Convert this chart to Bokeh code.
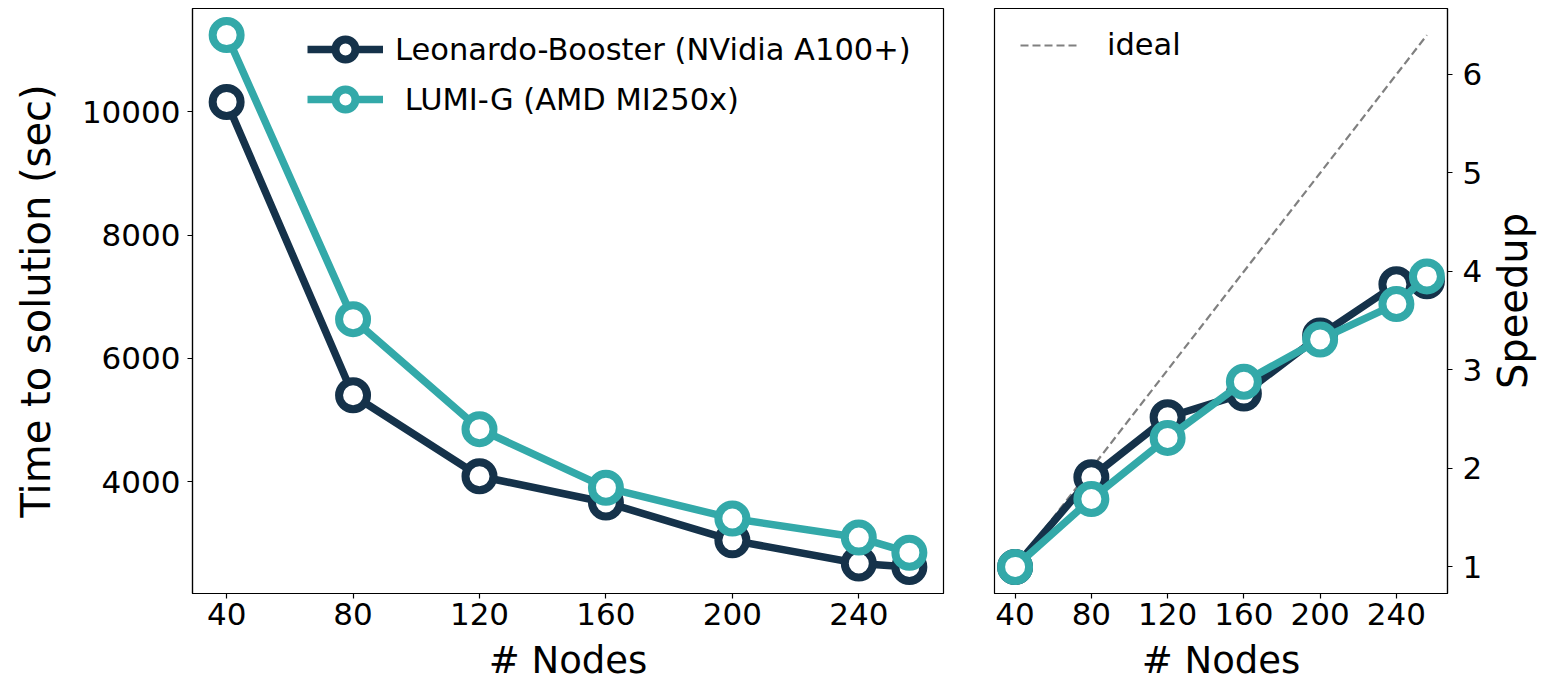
from bokeh.plotting import figure
from bokeh.layouts import row
from bokeh.models import Legend, LegendItem, FixedTicker, Range1d
from bokeh.embed import file_html
from bokeh.resources import INLINE

# ---------------- data ----------------
nodes = [40, 80, 120, 160, 200, 240, 256]
leo_time = [10160, 5400, 4085, 3660, 3045, 2670, 2614]
lumi_time = [11245, 6635, 4850, 3900, 3400, 3090, 2845]
leo_speedup = [1.0, 1.91, 2.52, 2.76, 3.35, 3.87, 3.90]
lumi_speedup = [1.0, 1.69, 2.31, 2.88, 3.31, 3.67, 3.95]
ideal_speedup = [1.0, 2.0, 3.0, 4.0, 5.0, 6.0, 6.4]
x_ticks = [40, 80, 120, 160, 200, 240]
time_ticks = [4000, 6000, 8000, 10000]
speedup_ticks = [1, 2, 3, 4, 5, 6]
series_labels = ["Leonardo-Booster (NVidia A100+)", " LUMI-G (AMD MI250x)"]
ideal_label = "ideal"
x_label = "# Nodes"
time_label = "Time to solution (sec)"
speedup_label = "Speedup"

# ---------------- style ----------------
LEO = "#15324a"
LUMI = "#33a9a9"
IDEAL = "#808080"
FONT = "DejaVu Sans"
TICK_FS = "31px"
XLABEL_FS = "37px"
YLABEL_FS = "40px"
LEG_FS = "30.5px"
LW = 7.5
MS = 28
MLW = 8

H = 684
TOP = 8
FRAME_H = 586
BOTTOM = H - TOP - FRAME_H


def padded(vals, frac=0.05):
    lo, hi = min(vals), max(vals)
    span = hi - lo
    return Range1d(lo - frac * span, hi + frac * span)


def style_axes(p):
    p.xgrid.visible = False
    p.ygrid.visible = False
    p.outline_line_color = "black"
    p.outline_line_width = 1.2
    p.background_fill_color = "white"
    p.border_fill_color = "white"
    for ax in list(p.xaxis) + list(p.yaxis):
        ax.major_label_text_font = FONT
        ax.major_label_text_font_size = TICK_FS
        ax.major_label_text_color = "black"
        ax.axis_label_text_font = FONT
        ax.axis_label_text_font_size = XLABEL_FS
        ax.axis_label_text_font_style = "normal"
        ax.axis_label_text_color = "black"
        ax.major_tick_in = 0
        ax.major_tick_out = 5
        ax.major_tick_line_width = 1.2
        ax.minor_tick_line_color = None
        ax.axis_line_width = 1.2


# ---------------- left: time to solution ----------------
p1 = figure(width=953, height=H, output_backend="svg", toolbar_location=None,
            x_range=padded(nodes), y_range=padded(leo_time + lumi_time),
            min_border_left=192, min_border_right=10, min_border_top=TOP,
            min_border_bottom=BOTTOM)
style_axes(p1)
p1.xaxis.ticker = FixedTicker(ticks=x_ticks)
p1.yaxis.ticker = FixedTicker(ticks=time_ticks)
p1.xaxis.axis_label = x_label
p1.yaxis.axis_label = time_label
p1.yaxis.axis_label_text_font_size = YLABEL_FS
p1.xaxis.major_label_standoff = 4
p1.xaxis.axis_label_standoff = 11
p1.yaxis.major_label_standoff = 7
p1.yaxis.axis_label_standoff = 20

l1 = p1.line(nodes, leo_time, line_color=LEO, line_width=LW)
s1 = p1.scatter(nodes, leo_time, marker="circle", size=MS, fill_color="white",
                line_color=LEO, line_width=MLW)
l2 = p1.line(nodes, lumi_time, line_color=LUMI, line_width=LW)
s2 = p1.scatter(nodes, lumi_time, marker="circle", size=MS, fill_color="white",
                line_color=LUMI, line_width=MLW)

leg1 = Legend(items=[LegendItem(label=series_labels[0], renderers=[l1, s1]),
                     LegendItem(label=series_labels[1], renderers=[l2, s2])],
              location=(115, 469), glyph_width=76, glyph_height=50,
              label_standoff=12, spacing=0, padding=0, margin=0,
              label_text_font=FONT, label_text_font_size=LEG_FS,
              label_text_color="black",
              border_line_alpha=0, background_fill_alpha=0)
p1.add_layout(leg1)

# ---------------- right: speedup ----------------
p2 = figure(width=533, height=H, output_backend="svg", toolbar_location=None,
            x_range=padded(nodes), y_range=padded(ideal_speedup),
            y_axis_location="right",
            min_border_left=41, min_border_right=39, min_border_top=TOP,
            min_border_bottom=BOTTOM)
style_axes(p2)
p2.xaxis.ticker = FixedTicker(ticks=x_ticks)
p2.yaxis.ticker = FixedTicker(ticks=speedup_ticks)
p2.xaxis.axis_label = x_label
p2.xaxis.major_label_standoff = 4
p2.xaxis.axis_label_standoff = 11
p2.yaxis.major_label_standoff = 10

li = p2.line(nodes, ideal_speedup, line_color=IDEAL, line_width=2.2, line_dash="8 4")
p2.line(nodes, leo_speedup, line_color=LEO, line_width=LW)
p2.scatter(nodes, leo_speedup, marker="circle", size=MS, fill_color="white",
           line_color=LEO, line_width=MLW)
p2.line(nodes, lumi_speedup, line_color=LUMI, line_width=LW)
p2.scatter(nodes, lumi_speedup, marker="circle", size=MS, fill_color="white",
           line_color=LUMI, line_width=MLW)

leg2 = Legend(items=[LegendItem(label=ideal_label, renderers=[li])],
              location=(26, 531), glyph_width=58, glyph_height=30,
              label_standoff=29, spacing=0, padding=0, margin=0,
              label_text_font=FONT, label_text_font_size=LEG_FS,
              label_text_color="black",
              border_line_alpha=0, background_fill_alpha=0)
p2.add_layout(leg2)

# ---------------- strip carrying the right-hand "Speedup" axis title ----------------
# a bare axis (hidden tick) whose label reads bottom-to-top, as in the reference
p3 = figure(width=66, height=H, output_backend="svg", toolbar_location=None,
            y_range=padded(ideal_speedup), x_range=padded(nodes),
            min_border_left=50, min_border_right=0, min_border_top=TOP,
            min_border_bottom=BOTTOM)
p3.xaxis.visible = False
p3.xgrid.visible = False
p3.ygrid.visible = False
p3.outline_line_color = None
p3.yaxis.ticker = FixedTicker(ticks=[speedup_ticks[2]])
p3.yaxis.axis_line_color = None
p3.yaxis.major_tick_line_color = None
p3.yaxis.minor_tick_line_color = None
p3.yaxis.major_tick_out = 0
p3.yaxis.major_tick_in = 0
p3.yaxis.major_label_standoff = 0
p3.yaxis.major_label_text_font_size = "1px"
p3.yaxis.major_label_text_alpha = 0
p3.yaxis.axis_label = speedup_label
p3.yaxis.axis_label_standoff = 3
p3.yaxis.axis_label_text_font = FONT
p3.yaxis.axis_label_text_font_size = YLABEL_FS
p3.yaxis.axis_label_text_font_style = "normal"
p3.yaxis.axis_label_text_color = "black"

layout = row(p1, p2, p3, spacing=0)
open("out.html", "w").write(file_html(layout, INLINE))
